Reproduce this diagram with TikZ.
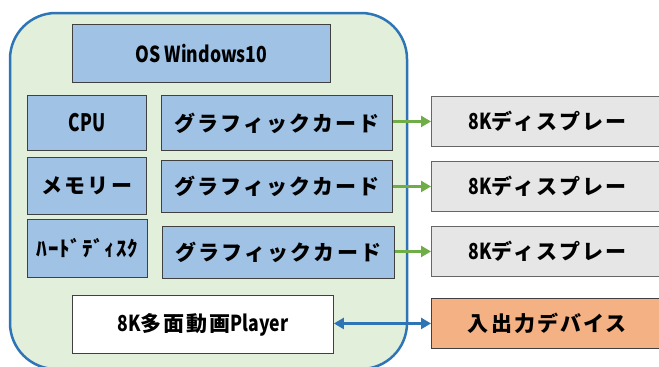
\documentclass[tikz,border=0pt]{standalone}
\usepackage{fontspec}
\setmainfont{Noto Sans CJK JP}[LetterSpace=10]
\newfontfamily\latn{Noto Sans CJK JP}[FakeStretch=0.8]
\newfontfamily\hankaku{Noto Sans CJK JP}[LetterSpace=4]
\usetikzlibrary{arrows.meta}
\definecolor{pcfill}{HTML}{E2EFDA}
\definecolor{pcline}{HTML}{2E75B6}
\definecolor{partfill}{HTML}{9FC2E5}
\definecolor{dispfill}{HTML}{E7E6E6}
\definecolor{iofill}{HTML}{F4B183}
\definecolor{linkgreen}{HTML}{70AD47}
\definecolor{boxline}{HTML}{404040}
\tikzset{
  x=1pt, y=-1pt,
  part/.style={draw=boxline, line width=0.9pt, fill=partfill, anchor=north west, inner sep=0pt,
    font=\bfseries\fontsize{21}{21}\selectfont},
  disp/.style={part, fill=dispfill, draw=boxline!80},
  video/.style={part, fill=white},
  io/.style={part, fill=iofill},
  glink/.style={draw=linkgreen, line width=3pt, -{Triangle[length=10pt,width=11pt]}},
  blink/.style={draw=pcline, line width=2.5pt, {Triangle[length=10pt,width=11pt]}-{Triangle[length=10pt,width=11pt]}},
}
\newcommand{\lt}[1]{{\latn\fontsize{22}{22}\selectfont #1}}
\begin{document}
\begin{tikzpicture}
\useasboundingbox (0,0) rectangle (659,367);
\begin{scope}
\clip (0,0) rectangle (659,367);
% PC enclosure
\draw[fill=pcfill, draw=pcline, line width=2.5pt, rounded corners=46pt] (10,13) rectangle (407,369);

% components inside the PC
\node[part, minimum width=258pt, minimum height=58pt] (os) at (72,24) {\lt{OS Windows10}};
\node[part, minimum width=119pt, minimum height=55pt] (cpu) at (27,95) {{\latn\fontsize{24}{24}\selectfont\addfontfeatures{FakeStretch=0.72}CPU}};
\node[part, minimum width=119pt, minimum height=57pt] (mem) at (27,157) {メモリー};
\node[part, minimum width=120pt, minimum height=58pt] (hdd) at (27,219) {\hankaku ﾊｰﾄﾞﾃﾞｨｽｸ};
\node[part, minimum width=231pt, minimum height=55pt] (gc1) at (161,95) {グラフィックカード};
\node[part, minimum width=231pt, minimum height=52pt] (gc2) at (161,160) {グラフィックカード};
\node[part, minimum width=232pt, minimum height=52pt] (gc3) at (162,226) {グラフィックカード};
\node[video, minimum width=261pt, minimum height=58pt] (player) at (72,295) {\lt{8K}多面動画\lt{Player}};

% external devices
\node[disp, minimum width=232pt, minimum height=50pt] (d1) at (431,96) {\lt{8K}ディスプレー};
\node[disp, minimum width=232pt, minimum height=50pt] (d2) at (431,161) {\lt{8K}ディスプレー};
\node[disp, minimum width=232pt, minimum height=50pt] (d3) at (431,226) {\lt{8K}ディスプレー};
\node[io, minimum width=232pt, minimum height=50pt] (io) at (431,298) {入出力デバイス};

% connections
\draw[glink] (gc1.east |- d1.west) -- (d1.west);
\draw[glink] (gc2.east |- d2.west) -- (d2.west);
\draw[glink] (gc3.east |- d3.west) -- (d3.west);
\draw[blink] (player.east |- io.west) -- (io.west);
\end{scope}
\end{tikzpicture}
\end{document}
